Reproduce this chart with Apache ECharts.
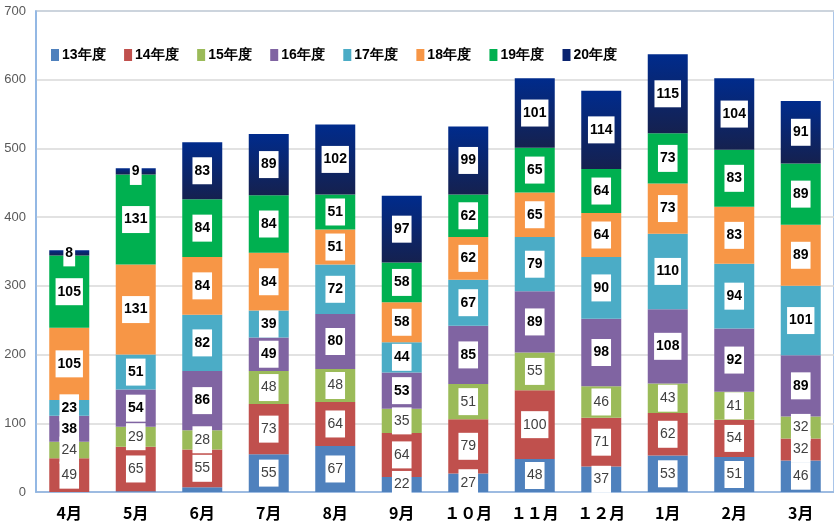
<!DOCTYPE html>
<html>
<head>
<meta charset="utf-8">
<script src="https://cdn.jsdelivr.net/npm/echarts@6/dist/echarts.min.js"></script>
<style>
html,body{margin:0;padding:0;background:#fff;}
#chart{width:834px;height:527px;}
</style>
</head>
<body>
<div id="chart"></div>
<script>
var categories = ['4月','5月','6月','7月','8月','9月','１０月','１１月','１２月','1月','2月','3月'];
var seriesNames = ['13年度','14年度','15年度','16年度','17年度','18年度','19年度','20年度'];
var s13 = [0, 1, 7, 55, 67, 22, 27, 48, 37, 53, 51, 46];
var s14 = [49, 65, 55, 73, 64, 64, 79, 100, 71, 62, 54, 32];
var s15 = [24, 29, 28, 48, 48, 35, 51, 55, 46, 43, 41, 32];
var s16 = [38, 54, 86, 49, 80, 53, 85, 89, 98, 108, 92, 89];
var s17 = [23, 51, 82, 39, 72, 44, 67, 79, 90, 110, 94, 101];
var s18 = [105, 131, 84, 84, 51, 58, 62, 65, 64, 73, 83, 89];
var s19 = [105, 131, 84, 84, 51, 58, 62, 65, 64, 73, 83, 89];
var s20 = [8, 9, 83, 89, 102, 97, 99, 101, 114, 115, 104, 91];
var yTicks = [0, 100, 200, 300, 400, 500, 600, 700];

var allValues = [s13, s14, s15, s16, s17, s18, s19, s20];
var colors = ['#4F81BD','#C0504D','#9BBB59','#8064A2','#4BACC6','#F79646','#00B050',
  new echarts.graphic.LinearGradient(0,0,0,1,[{offset:0,color:'#002B8C'},{offset:1,color:'#15214F'}])];
var legendColors = ['#4F81BD','#C0504D','#9BBB59','#8064A2','#4BACC6','#F79646','#00B050','#0B2470'];
var font = "'Liberation Sans',sans-serif";

var series = allValues.map(function(vals, i){
  var light = i < 3;
  return {
    name: seriesNames[i],
    type: 'bar',
    stack: 'total',
    barWidth: 40,
    itemStyle: {color: colors[i]},
    data: vals.map(function(v){
      if (i === 0 && v < 10) return {value: v, label: {show: false}};
      return v;
    }),
    label: {
      show: true,
      position: 'inside',
      backgroundColor: '#fff',
      padding: [7, 2, 6, 2],
      fontFamily: font,
      fontSize: 14,
      fontWeight: light ? 'normal' : 'bold',
      color: light ? '#404040' : '#000'
    }
  };
});

var chart = echarts.init(document.getElementById('chart'));
chart.setOption({
  animation: false,
  color: legendColors,
  grid: {left: 36, top: 11, width: 804, height: 481, show: true, borderColor: '#8DB3E2', borderWidth: 1.5, backgroundColor: 'transparent'},
  legend: {
    left: 46, top: 43,
    itemWidth: 8, itemHeight: 12, itemGap: 18.5,
    icon: 'rect',
    textStyle: {fontFamily: font, fontSize: 14, fontWeight: 'bold', color: '#000', padding: [0,0,0,-2]},
    data: seriesNames.map(function(n, i){ return {name: n, itemStyle: {color: legendColors[i]}}; })
  },
  xAxis: {
    type: 'category',
    data: categories,
    axisTick: {show: false},
    axisLine: {lineStyle: {color: '#8DB3E2', width: 1.5}},
    axisLabel: {margin: 13, fontSize: 16, fontWeight: 'bold', color: '#000', fontFamily: "'Noto Sans CJK JP',sans-serif"}
  },
  yAxis: {
    type: 'value',
    min: yTicks[0], max: yTicks[yTicks.length-1], interval: 100,
    axisLine: {show: true, lineStyle: {color: '#8DB3E2', width: 1.5}},
    axisTick: {show: false},
    splitLine: {lineStyle: {color: '#D9D9D9', width: 1.5}},
    axisLabel: {margin: 10, fontSize: 13, color: '#595959', fontFamily: font}
  },
  series: series
});
</script>
</body>
</html>
